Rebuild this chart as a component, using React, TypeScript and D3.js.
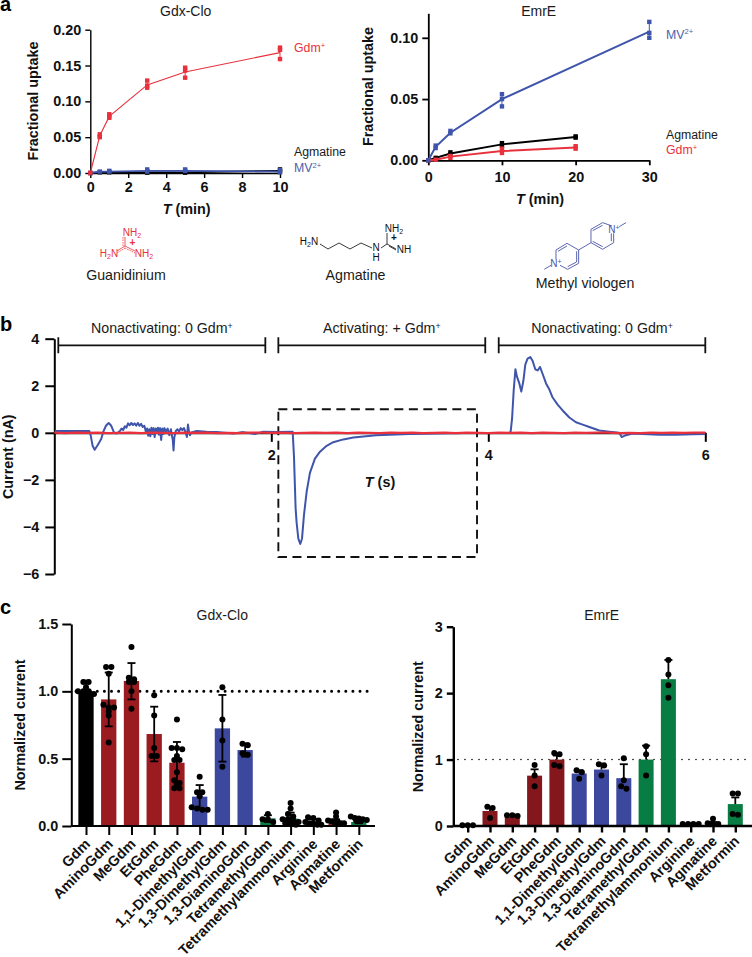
import React, { useEffect, useRef } from "react";
import * as d3 from "d3";

const FONT = "'Liberation Sans', Arial, sans-serif";
const RED = "#e8313c";
const BLUE = "#3f55ab";
const LABEL_BLUE = "#4a62ad";
const BAR_RED = "#9a1b20";
const BAR_RED_2 = "#84171b";
const BAR_BLUE = "#3c479e";
const BAR_GREEN = "#087d43";

// panel a, Gdx-Clo
const clo_T = [0, 0.5, 1, 3, 5, 10];
const clo_gdm_mean = [0, 0.052, 0.079, 0.123, 0.141, 0.168];
const clo_gdm_reps = [[0], [0.054, 0.051, 0.05], [0.082, 0.079, 0.077], [0.129, 0.122, 0.119], [0.147, 0.143, 0.133], [0.175, 0.172, 0.159]];
const clo_agm_mean = [0, 0.001, 0.001, 0.001, 0.001, 0.003];
const clo_agm_reps = [[0], [0.001], [0.001], [0.002, 0.0005], [0.002, 0.0005], [0.005, 0.002]];
const clo_mv_mean = [0, 0.002, 0.002, 0.003, 0.003, 0.002];
const clo_mv_reps = [[0], [0.002], [0.003, 0.002], [0.005, 0.002], [0.005, 0.003], [0.004, 0.001]];

// panel a, EmrE
const emr_mv_T = [0, 1, 3, 10, 30];
const emr_mv_mean = [0, 0.011, 0.0225, 0.05, 0.105];
const emr_mv_reps = [[0], [0.012, 0.01], [0.024, 0.022], [0.054, 0.05, 0.044], [0.113, 0.104, 0.1]];
const emr_T = [0, 1, 3, 10, 20];
const emr_agm_mean = [0, 0.002, 0.0055, 0.013, 0.019];
const emr_agm_reps = [[0], [0.002], [0.0065, 0.005], [0.014, 0.012], [0.0195, 0.0185]];
const emr_gdm_mean = [0, 0.0005, 0.003, 0.0075, 0.0105];
const emr_gdm_reps = [[0], [0.0005], [0.0035, 0.002], [0.0095, 0.006], [0.0115, 0.0095]];

// panel b, current traces
const trace_T = [0.006, 0.323, 0.335, 0.353, 0.372, 0.396, 0.415, 0.433, 0.452, 0.476, 0.501, 0.525, 0.55, 0.575,
  0.605, 0.62, 0.635, 0.65, 0.665, 0.68, 0.695, 0.71, 0.725, 0.74, 0.755, 0.77, 0.785, 0.8, 0.815, 0.83, 0.845, 0.855, 0.865, 0.875, 0.885, 0.895, 0.905, 0.915, 0.925, 0.935, 0.945, 0.955, 0.965, 0.975, 0.985, 0.995, 1.005, 1.015, 1.03, 1.045, 1.06, 1.075, 1.085, 1.092, 1.099, 1.106, 1.12, 1.135, 1.15, 1.165, 1.18, 1.195, 1.21, 1.222, 1.232, 1.24, 1.25, 1.265,
  1.312, 1.404, 1.496, 1.65, 1.742, 1.849, 1.926, 2.049, 2.197, 2.209, 2.224, 2.233, 2.249, 2.267, 2.283, 2.301, 2.326, 2.356, 2.402, 2.449, 2.51, 2.571, 2.664, 2.756, 2.965, 3.272, 3.763, 4.194, 4.206, 4.219, 4.234, 4.25, 4.264, 4.286, 4.304, 4.323, 4.341, 4.362, 4.387, 4.409, 4.433, 4.455, 4.476, 4.501, 4.532, 4.562, 4.593, 4.639, 4.685, 4.747, 4.808, 4.87, 4.931, 5.023, 5.115, 5.207, 5.229, 5.269, 5.33, 5.422, 5.576, 5.73, 5.883, 6];
const trace_I = [0.08, 0.08, -0.1, -0.55, -0.72, -0.55, -0.4, -0.25, 0.05, 0.3, 0.42, 0.3, 0.02, -0.03,
  0.08, 0.18, 0.12, 0.28, 0.22, 0.4, 0.32, 0.42, 0.33, 0.4, 0.3, 0.42, 0.3, 0.38, 0.25, 0.3, 0.02, 0.18, -0.12, 0.15, -0.15, 0.22, -0.05, 0.2, -0.18, 0.18, 0.02, 0.22, -0.08, 0.2, -0.3, 0.18, -0.05, 0.2, 0.05, 0.18, -0.1, 0.15, -0.15, -0.3, -0.75, -0.2, 0.08, 0.15, 0.05, 0.2, 0.12, 0.2, 0.02, -0.18, 0.35, 0.1, -0.1, 0.02,
  0.08, 0.05, 0.03, -0.03, 0.03, -0.05, 0.05, 0.03, 0.05, -1, -3.2, -3.8, -4.5, -4.72, -4.5, -3.5, -2.5, -1.7, -1.1, -0.8, -0.55, -0.4, -0.28, -0.2, -0.1, -0.05, -0.01, 0, 0.05, 0.6, 1.8, 2.7, 2.39, 2.1, 1.75, 2.2, 2.9, 3.15, 3.22, 3.05, 2.7, 2.65, 2.8, 2.5, 2.1, 1.85, 1.5, 1.2, 0.95, 0.65, 0.45, 0.35, 0.25, 0.1, 0.05, 0, -0.18, -0.1, -0.03, -0.05, -0.08, -0.08, -0.06, -0.05];
const control_T = [0, 0.1, 0.2, 0.3, 0.4, 0.5, 0.6, 0.7, 0.8, 0.9, 1, 1.1, 1.2, 1.3, 1.4, 1.5, 1.6, 1.7, 1.8, 1.9, 2, 2.1, 2.2, 2.3, 2.4, 2.5, 2.6, 2.7, 2.8, 2.9, 3, 3.1, 3.2, 3.3, 3.4, 3.5, 3.6, 3.7, 3.8, 3.9, 4, 4.1, 4.2, 4.3, 4.4, 4.5, 4.6, 4.7, 4.8, 4.9, 5, 5.1, 5.2, 5.3, 5.4, 5.5, 5.6, 5.7, 5.8, 5.9, 6];
const control_I = [0.01, -0.01, 0.01, 0, 0.01, -0.01, 0, 0.01, -0.01, 0.01, 0, -0.01, 0.01, 0, 0.01, -0.01, 0, -0.01, 0.01, 0.01, 0, 0.01, -0.01, 0, 0.01, 0, 0.01, -0.01, 0.01, 0, -0.01, 0.01, 0, 0.01, -0.01, 0, 0.01, -0.01, 0.01, 0, -0.01, 0.01, 0, 0.01, -0.01, 0.01, 0, -0.01, 0.01, 0, 0.01, 0.01, -0.01, 0, -0.01, 0.01, 0, 0.01, 0, 0.01, 0.01];
const bracket_labels = ["Nonactivating: 0 Gdm", "Activating: + Gdm", "Nonactivating: 0 Gdm"];
const bracket_T = [[0.037, 1.945], [2.065, 3.972], [4.096, 6]];

// panel c
const compounds = ["Gdm", "AminoGdm", "MeGdm", "EtGdm", "PheGdm", "1,1-DimethylGdm", "1,3-DimethylGdm", "1,3-DiaminoGdm", "TetramethylGdm", "Tetramethylammonium", "Arginine", "Agmatine", "Metformin"];
const cloColors = ["#000", BAR_RED, BAR_RED, BAR_RED, BAR_RED, BAR_BLUE, BAR_BLUE, BAR_BLUE, BAR_GREEN, BAR_GREEN, BAR_GREEN, BAR_RED, BAR_GREEN];
const emrColors = ["#000", BAR_RED_2, BAR_RED_2, BAR_RED_2, BAR_RED_2, BAR_BLUE, BAR_BLUE, BAR_BLUE, BAR_GREEN, BAR_GREEN, BAR_GREEN, BAR_RED_2, BAR_GREEN];
const clo_mean = [1, 0.94, 1.077, 0.683, 0.47, 0.218, 0.725, 0.564, 0.057, 0.055, 0.03, 0.02, 0.03];
const clo_hi = [1.08, 1.14, 1.21, 0.886, 0.624, 0.304, 0.973, 0.614, 0.08, 0.1, 0.05, 0.05, 0.05];
const clo_lo = [0.92, 0.74, 0.94, 0.48, 0.324, 0.124, 0.478, 0.515, 0.03, 0.01, 0.01, 0.005, 0.02];
const clo_dots = [
  [1.07, 1.07, 1.03, 1, 1, 1, 0.98, 0.97, 0.95, 0.93, 0.93],
  [1.18, 1.18, 1.13, 0.9, 0.88, 0.88, 0.85, 0.82, 0.62],
  [1.33, 1.1, 1.09, 1.07, 1.07, 1, 0.87],
  [0.97, 0.82, 0.58, 0.52, 0.52],
  [0.79, 0.58, 0.58, 0.57, 0.52, 0.49, 0.49, 0.4, 0.34, 0.32, 0.31, 0.28, 0.28],
  [0.365, 0.25, 0.25, 0.22, 0.14, 0.13, 0.12, 0.12],
  [1.03, 0.79, 0.635, 0.44],
  [0.61, 0.6, 0.54, 0.53],
  [0.09, 0.05, 0.05, 0.03],
  [0.17, 0.13, 0.09, 0.07, 0.05, 0.05, 0.04, 0.03, 0.02, 0.02, 0.01],
  [0.065, 0.06, 0.04, 0.03, 0.02, 0.02, 0.01, 0.01],
  [0.1, 0.07, 0.04, 0.035, 0.03, 0.03, 0.02, 0.02],
  [0.07, 0.06, 0.055, 0.05, 0.045, 0.04, 0.04],
];
const emr_mean = [0, 0.226, 0.14, 0.758, 1, 0.79, 0.85, 0.72, 1, 2.21, 0.03, 0.03, 0.33];
const emr_hi = [0.01, 0.286, 0.17, 0.853, 1.06, 0.84, 0.94, 0.93, 1.21, 2.5, 0.04, 0.06, 0.43];
const emr_dots = [
  [0.01, 0.01, 0.01],
  [0.29, 0.27, 0.12],
  [0.16, 0.16, 0.15],
  [0.92, 0.76, 0.6],
  [1.1, 1.08, 0.92, 0.9],
  [0.84, 0.81, 0.71],
  [0.93, 0.91, 0.76],
  [1.02, 0.69, 0.6, 0.56],
  [1.2, 1.08, 0.76],
  [2.5, 2.28, 2.12, 1.93],
  [0.03, 0.03, 0.03, 0.03],
  [0.11, 0.04, 0.03, 0.03],
  [0.49, 0.49, 0.18, 0.17],
];

type G = d3.Selection<SVGGElement, unknown, null, undefined>;

function styleAxis(g: G, sw: number) {
  g.selectAll("path,line").attr("stroke", "#000").attr("stroke-width", sw);
  g.selectAll("text").attr("font-family", FONT).attr("font-size", 14.4).attr("font-weight", "bold").attr("fill", "#111");
}

function label(g: G, x: number, y: number, text: string, opts: any = {}) {
  const t = g.append("text").attr("x", x).attr("y", y)
    .attr("font-family", FONT)
    .attr("font-size", opts.size ?? 14.4)
    .attr("font-weight", opts.bold ? "bold" : "normal")
    .attr("fill", opts.fill ?? "#1a1a1a")
    .attr("text-anchor", opts.anchor ?? "start");
  if (opts.rotate) t.attr("transform", `rotate(${opts.rotate} ${x} ${y})`);
  t.append("tspan").text(text);
  if (opts.sup) {
    t.append("tspan").attr("dy", -4.5).attr("font-size", (opts.size ?? 14.4) * 0.62).text(opts.sup);
  }
  return t;
}

function timeLabel(g: G, x: number, y: number, unit: string) {
  const t = g.append("text").attr("x", x).attr("y", y).attr("text-anchor", "middle")
    .attr("font-family", FONT).attr("font-size", 14.4).attr("font-weight", "bold").attr("fill", "#111");
  t.append("tspan").attr("font-style", "italic").text("T");
  t.append("tspan").text(` (${unit})`);
}

function uptakeSeries(g: G, x: any, y: any, T: number[], mean: number[], reps: number[][], color: string, sw: number) {
  const line = d3.line<number>().x((_, i) => x(T[i])).y((d) => y(d));
  g.append("path").datum(mean).attr("d", line).attr("fill", "none").attr("stroke", color).attr("stroke-width", sw);
  T.forEach((t, i) => {
    const ext = d3.extent(reps[i]) as [number, number];
    g.append("line").attr("x1", x(t)).attr("x2", x(t)).attr("y1", y(ext[0])).attr("y2", y(ext[1])).attr("stroke", color).attr("stroke-width", 1);
    reps[i].forEach((v) => {
      g.append("rect").attr("x", x(t) - 2.2).attr("y", y(v) - 2.2).attr("width", 4.4).attr("height", 4.4).attr("fill", color);
    });
  });
}

// Prism-like scatter: dots with nearly the same value share a row, spread round the bar centre
function swarm(vals: number[], y: any) {
  const placed: { v: number; dx: number }[] = [];
  let row: number[] = [];
  const flush = () => {
    const n = row.length;
    const step = n <= 3 ? 5.3 : 16 / (n - 1);
    row.forEach((v, i) => placed.push({ v, dx: n === 1 ? 0 : (i - (n - 1) / 2) * step }));
    row = [];
  };
  vals.forEach((v) => {
    if (row.length && Math.abs(y(row[0]) - y(v)) > 3.5) flush();
    row.push(v);
  });
  flush();
  return placed;
}

function drawBars(g: G, conf: any) {
  const { x, y, colors, mean, hi, lo, dots, barW, axisSw, tick, domainEnd, yTicks, yFormat, dotSw, dotGap } = conf;
  const x0 = conf.axisX;

  // dotted reference line at 1, sits behind the bars
  g.append("line").attr("x1", conf.refStart).attr("x2", conf.refEnd).attr("y1", y(1)).attr("y2", y(1))
    .attr("stroke", "#000").attr("stroke-width", dotSw).attr("stroke-linecap", "round").attr("stroke-dasharray", `0 ${dotGap}`);

  compounds.forEach((c, i) => {
    g.append("rect").attr("x", x(c) - barW / 2).attr("width", barW)
      .attr("y", y(mean[i])).attr("height", y(0) - y(mean[i])).attr("fill", colors[i]);
  });

  const xAxis = g.append("g").attr("transform", `translate(0,${y(0)})`)
    .call(d3.axisBottom(x).tickSize(tick).tickSizeOuter(0).tickFormat(() => "") as any);
  xAxis.select("path").attr("d", `M${x0},0H${domainEnd}`);
  styleAxis(xAxis, axisSw);

  const yAxis = g.append("g").attr("transform", `translate(${x0},0)`)
    .call(d3.axisLeft(y).tickValues(yTicks).tickSize(tick).tickSizeOuter(0).tickPadding(conf.tickPad).tickFormat(yFormat) as any);
  styleAxis(yAxis, axisSw);

  compounds.forEach((c, i) => {
    const cx = x(c);
    const bottom = lo ? lo[i] : mean[i];
    g.append("line").attr("x1", cx).attr("x2", cx).attr("y1", y(hi[i])).attr("y2", y(bottom)).attr("stroke", "#000").attr("stroke-width", 1.8);
    g.append("line").attr("x1", cx - 4).attr("x2", cx + 4).attr("y1", y(hi[i])).attr("y2", y(hi[i])).attr("stroke", "#000").attr("stroke-width", 1.8);
    if (lo) g.append("line").attr("x1", cx - 4).attr("x2", cx + 4).attr("y1", y(lo[i])).attr("y2", y(lo[i])).attr("stroke", "#000").attr("stroke-width", 1.8);
    swarm(dots[i], y).forEach((p) => {
      g.append("circle").attr("cx", cx + p.dx).attr("cy", y(p.v)).attr("r", 3).attr("fill", "#000");
    });
    const lx = cx + conf.labelDx;
    const ly = y(0) + conf.labelDy;
    g.append("text").attr("x", lx).attr("y", ly).attr("text-anchor", "end")
      .attr("transform", `rotate(-45 ${lx} ${ly})`)
      .attr("font-family", FONT).attr("font-size", 14.4).attr("font-weight", "bold").attr("fill", "#111").text(c);
  });
}

function Molecules() {
  const txt = { fontFamily: FONT, fontSize: 10, textAnchor: "middle" as const };
  const sub = { fontSize: 7, dy: 2 };
  const mv = "#4a55a5";
  return (
    <g>
      {/* guanidinium */}
      <g stroke={RED} strokeWidth={0.8} fill="none">
        <path d="M125 246V237M125 246L117 251M125 246L135 251" />
        <path d="M123 246V237M125 248L135 253M125 248L117 253" strokeDasharray="1.5 1" />
      </g>
      <g fill={RED} {...txt}>
        <text x={132} y={236}>NH<tspan {...sub}>2</tspan><tspan x={132.5} dy={7.5} fontWeight="bold">+</tspan></text>
        <text x={109} y={256.5}>H<tspan {...sub}>2</tspan><tspan dy={-2}>N</tspan></text>
        <text x={144} y={257}>NH<tspan {...sub}>2</tspan></text>
      </g>
      {/* agmatine */}
      <path d="M320 244L328 249L339 243L350 249L361 243L372 248M381 248L387 244V233M387 244L396 249M389 246L396 250" stroke="#222" strokeWidth={0.9} fill="none" />
      <g fill="#111" {...txt}>
        <text x={309} y={245}>H<tspan {...sub}>2</tspan><tspan dy={-2}>N</tspan></text>
        <text x={376} y={251}>N<tspan x={376} dy={9.5}>H</tspan></text>
        <text x={394} y={231.5}>NH<tspan {...sub}>2</tspan><tspan x={394} dy={7.5} fontWeight="bold">+</tspan></text>
        <text x={404} y={252.5}>NH</text>
      </g>
      {/* methyl viologen */}
      <g stroke={mv} strokeWidth={2.7} fill="none" transform="translate(376,0) scale(0.3333)">
        <path d="M708 678L680 668L645 688V728L680 748L713 728V700M650 692L680 676M650 724L680 740M706 724V700" />
        <path d="M645 728L608 750M730 680L750 668M525 796L505 808" />
        <path d="M608 750V790L575 808L552 796M608 750L573 730L540 750V778M575 800L602 786M573 738L546 754M602 754V786" />
      </g>
      <g fill={mv} {...txt}>
        <text x={614} y={233}>N<tspan fontSize={7} dy={-3}>+</tspan></text>
        <text x={556} y={267}>N<tspan fontSize={7} dy={-3}>+</tspan></text>
      </g>
    </g>
  );
}

export default function App() {
  const ref = useRef<SVGGElement | null>(null);

  useEffect(() => {
    if (!ref.current) return;
    const root = d3.select(ref.current);
    root.selectAll("*").remove();
    const g = root as unknown as G;

    label(g, 0, 11, "a", { bold: true, size: 20, fill: "#000" });
    label(g, 0, 331, "b", { bold: true, size: 20, fill: "#000" });
    label(g, 0, 614, "c", { bold: true, size: 20, fill: "#000" });

    // --- a, Gdx-Clo
    const aX = d3.scaleLinear().domain([0, 10]).range([90.3, 280]);
    const aY = d3.scaleLinear().domain([0, 0.2]).range([173, 29.7]);
    const a1x = g.append("g").attr("transform", "translate(0,173)")
      .call(d3.axisBottom(aX).tickValues([0, 2, 4, 6, 8, 10]).tickSize(5).tickSizeOuter(0).tickPadding(4) as any);
    styleAxis(a1x, 1.4);
    const a1y = g.append("g").attr("transform", "translate(90.3,0)")
      .call(d3.axisLeft(aY).tickValues([0, 0.05, 0.1, 0.15, 0.2]).tickSize(5).tickSizeOuter(0).tickPadding(4).tickFormat(d3.format(".2f") as any) as any);
    styleAxis(a1y, 1.4);
    uptakeSeries(g, aX, aY, clo_T, clo_agm_mean, clo_agm_reps, "#000", 1.8);
    uptakeSeries(g, aX, aY, clo_T, clo_mv_mean, clo_mv_reps, BLUE, 1.8);
    uptakeSeries(g, aX, aY, clo_T, clo_gdm_mean, clo_gdm_reps, RED, 1.1);
    label(g, 185.7, 15.5, "Gdx-Clo", { size: 14, anchor: "middle" });
    label(g, 38, 101, "Fractional uptake", { bold: true, anchor: "middle", rotate: -90, fill: "#111" });
    timeLabel(g, 186.7, 214, "min");
    label(g, 294, 52, "Gdm", { size: 12.3, fill: RED, sup: "+" });
    label(g, 294, 156, "Agmatine", { size: 12.3 });
    label(g, 294, 172, "MV", { size: 12.3, fill: LABEL_BLUE, sup: "2+" });

    // --- a, EmrE
    const bX = d3.scaleLinear().domain([0, 30]).range([428.3, 649.3]);
    const bY = d3.scaleLinear().domain([0, 0.12]).range([160.3, 13.3]);
    const a2x = g.append("g").attr("transform", "translate(0,160.3)")
      .call(d3.axisBottom(bX).tickValues([0, 10, 20, 30]).tickSize(5).tickSizeOuter(0).tickPadding(6) as any);
    styleAxis(a2x, 1.8);
    const a2y = g.append("g").attr("transform", "translate(428.3,0)")
      .call(d3.axisLeft(bY).tickValues([0, 0.05, 0.1]).tickSize(6).tickSizeOuter(0).tickPadding(4).tickFormat(d3.format(".2f") as any) as any);
    styleAxis(a2y, 1.8);
    uptakeSeries(g, bX, bY, emr_T, emr_agm_mean, emr_agm_reps, "#000", 2);
    uptakeSeries(g, bX, bY, emr_T, emr_gdm_mean, emr_gdm_reps, RED, 2);
    uptakeSeries(g, bX, bY, emr_mv_T, emr_mv_mean, emr_mv_reps, BLUE, 2);
    label(g, 538.7, 15.5, "EmrE", { size: 14, anchor: "middle" });
    label(g, 372.5, 86.5, "Fractional uptake", { bold: true, anchor: "middle", rotate: -90, fill: "#111" });
    timeLabel(g, 540, 204, "min");
    label(g, 666, 38.5, "MV", { size: 12.3, fill: LABEL_BLUE, sup: "2+" });
    label(g, 666, 139, "Agmatine", { size: 12.3 });
    label(g, 666, 154, "Gdm", { size: 12.3, fill: RED, sup: "+" });

    label(g, 126, 279.5, "Guanidinium", { size: 14.2, anchor: "middle" });
    label(g, 355.5, 279.5, "Agmatine", { size: 14.2, anchor: "middle" });
    label(g, 585, 287.5, "Methyl viologen", { size: 14.2, anchor: "middle" });

    // --- b, traces
    const tX = d3.scaleLinear().domain([0, 6]).range([54.3, 705.3]);
    const tY = d3.scaleLinear().domain([-6, 4]).range([574, 338.7]);
    const bx = g.append("g").attr("transform", `translate(0,${tY(0)})`)
      .call(d3.axisBottom(tX).tickValues([2, 4, 6]).tickSize(9).tickSizeOuter(0).tickPadding(8).tickFormat(d3.format("d") as any) as any);
    styleAxis(bx, 2);
    const by = g.append("g").attr("transform", "translate(54.3,0)")
      .call(d3.axisLeft(tY).tickValues([4, 2, 0, -2, -4, -6]).tickSize(9).tickSizeOuter(0).tickPadding(6).tickFormat((d: any) => (d < 0 ? `\u2212${-d}` : `${d}`)) as any);
    styleAxis(by, 2);
    label(g, 13.2, 456.7, "Current (nA)", { bold: true, anchor: "middle", rotate: -90, fill: "#111" });

    bracket_T.forEach((b, i) => {
      const yy = tY(3.72);
      g.append("path").attr("d", `M${tX(b[0])},${yy - 8}V${yy + 8}M${tX(b[0])},${yy}H${tX(b[1])}M${tX(b[1])},${yy - 8}V${yy + 8}`)
        .attr("fill", "none").attr("stroke", "#111").attr("stroke-width", 1.8);
      label(g, (tX(b[0]) + tX(b[1])) / 2, 333, bracket_labels[i], { size: 14.2, anchor: "middle", sup: "+" });
    });

    g.append("rect").attr("x", tX(2.065)).attr("y", tY(1)).attr("width", tX(3.896) - tX(2.065)).attr("height", tY(-5.28) - tY(1))
      .attr("fill", "none").attr("stroke", "#111").attr("stroke-width", 1.9).attr("stroke-dasharray", "9 5.5");
    timeLabel(g, 380, 487, "s");

    const tLine = d3.line<[number, number]>().x((d) => tX(d[0])).y((d) => tY(d[1]));
    g.append("path").datum(d3.zip(trace_T, trace_I) as [number, number][]).attr("d", tLine).attr("fill", "none").attr("stroke", BLUE).attr("stroke-width", 2).attr("stroke-linejoin", "round");
    g.append("path").datum(d3.zip(control_T, control_I) as [number, number][]).attr("d", tLine).attr("fill", "none").attr("stroke", RED).attr("stroke-width", 2.2);

    // --- c, Gdx-Clo
    const cloX = d3.scalePoint<string>().domain(compounds).range([86, 358.8]);
    const cloY = d3.scaleLinear().domain([0, 1.5]).range([826, 624]);
    drawBars(g, {
      x: cloX, y: cloY, colors: cloColors, mean: clo_mean, hi: clo_hi, lo: clo_lo, dots: clo_dots,
      barW: 15.3, axisX: 71.3, axisSw: 2, tick: 9, domainEnd: 375, yTicks: [0, 0.5, 1, 1.5], yFormat: d3.format(".1f"),
      tickPad: 4, dotSw: 3, dotGap: 7.1, refStart: 76, refEnd: 372, labelDx: 5, labelDy: 19,
    });
    label(g, 222.3, 620, "Gdx-Clo", { size: 14, anchor: "middle" });
    label(g, 25, 725, "Normalized current", { bold: true, anchor: "middle", rotate: -90, fill: "#111" });

    // --- c, EmrE
    const emrX = d3.scalePoint<string>().domain(compounds).range([467.7, 735.3]);
    const emrY = d3.scaleLinear().domain([0, 3]).range([826, 626.7]);
    drawBars(g, {
      x: emrX, y: emrY, colors: emrColors, mean: emr_mean, hi: emr_hi, lo: null, dots: emr_dots,
      barW: 15, axisX: 453.3, axisSw: 2.4, tick: 6.5, domainEnd: 752, yTicks: [0, 1, 2, 3], yFormat: d3.format("d"),
      tickPad: 4, dotSw: 1.6, dotGap: 7, refStart: 458, refEnd: 747, labelDx: 5, labelDy: 16,
    });
    label(g, 601.7, 620, "EmrE", { size: 14, anchor: "middle" });
    label(g, 422.7, 726.7, "Normalized current", { bold: true, anchor: "middle", rotate: -90, fill: "#111" });
  }, []);

  return (
    <svg width={752} height={957} style={{ position: "absolute", left: 0, top: 0, background: "#fff" }}>
      <Molecules />
      <g ref={ref} />
    </svg>
  );
}
